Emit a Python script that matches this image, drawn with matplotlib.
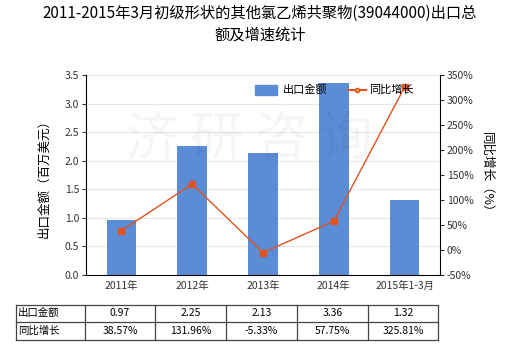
import matplotlib
matplotlib.use("Agg")
import matplotlib.pyplot as plt
from matplotlib.lines import Line2D
from matplotlib.patches import Rectangle
from matplotlib.ticker import FuncFormatter

plt.rcParams['font.family'] = ['Noto Sans CJK SC', 'DejaVu Sans']

categories = ["2011年", "2012年", "2013年", "2014年", "2015年1-3月"]
export_value = [0.97, 2.25, 2.13, 3.36, 1.32]
growth_rate = [38.57, 131.96, -5.33, 57.75, 325.81]
row_labels = ["出口金额", "同比增长"]
series_names = ["出口金额", "同比增长"]

bar_color = "#5A8DD6"
line_color = "#E0521F"

W, H = 520, 350
fig = plt.figure(figsize=(5.2, 3.5), dpi=100)
fig.patch.set_facecolor("white")

ax = fig.add_axes([86 / W, 75 / H, 354 / W, 200 / H])
x = list(range(len(categories)))
ax.bar(x, export_value, width=0.42, color=bar_color, zorder=2)
ax.set_xlim(-0.5, len(categories) - 0.5)
ax.set_ylim(0, 3.5)
ax.set_yticks([i * 0.5 for i in range(8)])
ax.yaxis.set_major_formatter(FuncFormatter(lambda v, p: f"{v:.1f}"))
ax.set_xticks(x)
ax.set_xticklabels(categories)
ax.grid(axis="y", color="#E6E6E6", linewidth=0.8, zorder=0)
for s in ["top", "right"]:
    ax.spines[s].set_visible(False)
ax.spines["left"].set_color("#000000")
ax.spines["bottom"].set_color("#000000")
ax.tick_params(axis="y", labelsize=7.5, length=3, pad=2, colors="#333333")
ax.tick_params(axis="x", labelsize=7.5, length=0, pad=4, colors="#333333")
ax.set_ylabel("出口金额（百万美元）", fontsize=9, labelpad=10)

ax2 = ax.twinx()
ax2.plot(x, growth_rate, color=line_color, linewidth=1, marker="s",
         markersize=4, zorder=3)
ax2.set_ylim(-50, 350)
ax2.set_yticks(list(range(-50, 351, 50)))
ax2.yaxis.set_major_formatter(FuncFormatter(lambda v, p: f"{int(v)}%"))
for s in ["top", "left", "bottom"]:
    ax2.spines[s].set_visible(False)
ax2.spines["right"].set_color("#000000")
ax2.tick_params(axis="y", labelsize=7.5, length=3, pad=2, colors="#333333")
ax2.set_ylabel("同比增长（%）", fontsize=9, rotation=-90, labelpad=14)

# watermark
fig.text(0.48, 0.60, "济 研 咨 询", fontsize=38, color="#000000", alpha=0.04,
         ha="center", va="center")

# legend drawn in figure pixels
ly = 1 - 90 / H
fig.add_artist(Rectangle((255 / W, ly - 5 / H), 22 / W, 10 / H,
                         transform=fig.transFigure, color=bar_color))
fig.text(283 / W, ly, series_names[0], fontsize=8, va="center", ha="left")
fig.add_artist(Line2D([348 / W, 366 / W], [ly, ly], color=line_color, linewidth=1.5))
fig.add_artist(Line2D([357 / W], [ly], color=line_color, marker="o", markersize=3,
                      markerfacecolor="#F0A030", markeredgecolor=line_color))
fig.text(369 / W, ly, series_names[1], fontsize=8, va="center", ha="left")

fig.suptitle("2011-2015年3月初级形状的其他氯乙烯共聚物(39044000)出口总\n额及增速统计",
             fontsize=11, y=0.985, linespacing=1.3)

# data table
col_edges = [16, 85, 155, 226, 297, 368, 438]
row_edges = [304.5, 322, 340]
lc = "#444444"
for xe in col_edges:
    fig.add_artist(Line2D([xe / W, xe / W], [1 - row_edges[0] / H, 1 - row_edges[-1] / H],
                          color=lc, linewidth=0.9))
for ye in row_edges:
    fig.add_artist(Line2D([col_edges[0] / W, col_edges[-1] / W], [1 - ye / H, 1 - ye / H],
                          color=lc, linewidth=0.9))
row_values = [[f"{v:.2f}" for v in export_value], [f"{v:.2f}%" for v in growth_rate]]
for r in range(2):
    yc = 1 - (row_edges[r] + row_edges[r + 1]) / 2 / H
    fig.text((col_edges[0] + 2) / W, yc, row_labels[r], fontsize=7.5, va="center", ha="left")
    for c in range(5):
        xc = (col_edges[c + 1] + col_edges[c + 2]) / 2 / W
        fig.text(xc, yc, row_values[r][c], fontsize=7.5, va="center", ha="center")

fig.savefig("out.png", dpi=100)
